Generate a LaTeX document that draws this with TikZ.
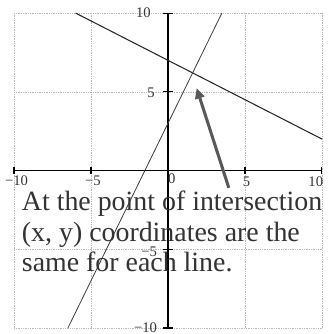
\documentclass[tikz,border=0pt]{standalone}
\usepackage{fontspec}
\setmainfont{Liberation Serif}
\usetikzlibrary{arrows.meta}

\tikzset{
  gridline/.style={gray!55, densely dotted, line width=0.5pt},
  axisline/.style={black, line width=0.9pt},
  graphline/.style={black!85, line width=0.7pt},
  ticklabel/.style={font=\fontsize{12.5}{14}\selectfont, text=black!80, inner sep=0pt},
  note/.style={font=\fontsize{23.8}{26}\selectfont, text=black!80, inner sep=0pt, anchor=base west}
}

\begin{document}
\begin{tikzpicture}[x=0.462cm, y=0.4725cm]
\useasboundingbox (-10.91,-10.38) rectangle (10.58,10.83);
% grid
\foreach \v in {-10,-5,5,10} {
  \draw[gridline] (\v,-10) -- (\v,10);
  \draw[gridline] (-10,\v) -- (10,\v);
}
% axes and ticks
\draw[axisline] (-10,0) -- (10,0);
\draw[axisline] (0,-10) -- (0,10);
\foreach \v in {-10,-5,5,10} {
  \draw[axisline] (\v,-0.2) -- (\v,0.25);
  \draw[axisline] (-0.3,\v) -- (0.35,\v);
}
\node[ticklabel] (xm10) at (-9.84,-0.65) {−10};
\node[ticklabel] (xm5) at (-4.87,-0.65) {−5};
\node[ticklabel] (x0) at (0.25,-0.55) {0};
\node[ticklabel] (x5) at (5.1,-0.7) {5};
\node[ticklabel] (x10) at (9.6,-0.7) {10};
\node[ticklabel, anchor=east] (y10) at (-1.1,10) {10};
\node[ticklabel, anchor=east] (y5) at (-0.85,4.92) {5};
\node[ticklabel, anchor=east] (ym5) at (-0.7,-5.15) {−5};
\node[ticklabel, anchor=east] (ym10) at (-0.7,-10) {−10};
% the two lines
\coordinate (pa) at (-6,10);
\coordinate (pb) at (10,2);
\coordinate (qa) at (-6.5,-10);
\coordinate (qb) at (3.5,10);
\draw[graphline, line width=0.9pt] (pa) -- (pb);
\draw[graphline, black!75] (qa) -- (qb);
% arrow to the intersection
\coordinate (tail) at (3.95,-1.1);
\coordinate (tip) at (1.86,5.24);
\draw[black!65, line width=2.6pt, -{Triangle[length=9pt, width=8pt]}] (tail) -- (tip);
% note
\node[note] (line1) at (-9.5,-2.54) {At the point of intersection};
\node[note] (line2) at (-9.5,-4.49) {(x, y) coordinates are the};
\node[note] (line3) at (-9.5,-6.44) {same for each line.};
\end{tikzpicture}
\end{document}
